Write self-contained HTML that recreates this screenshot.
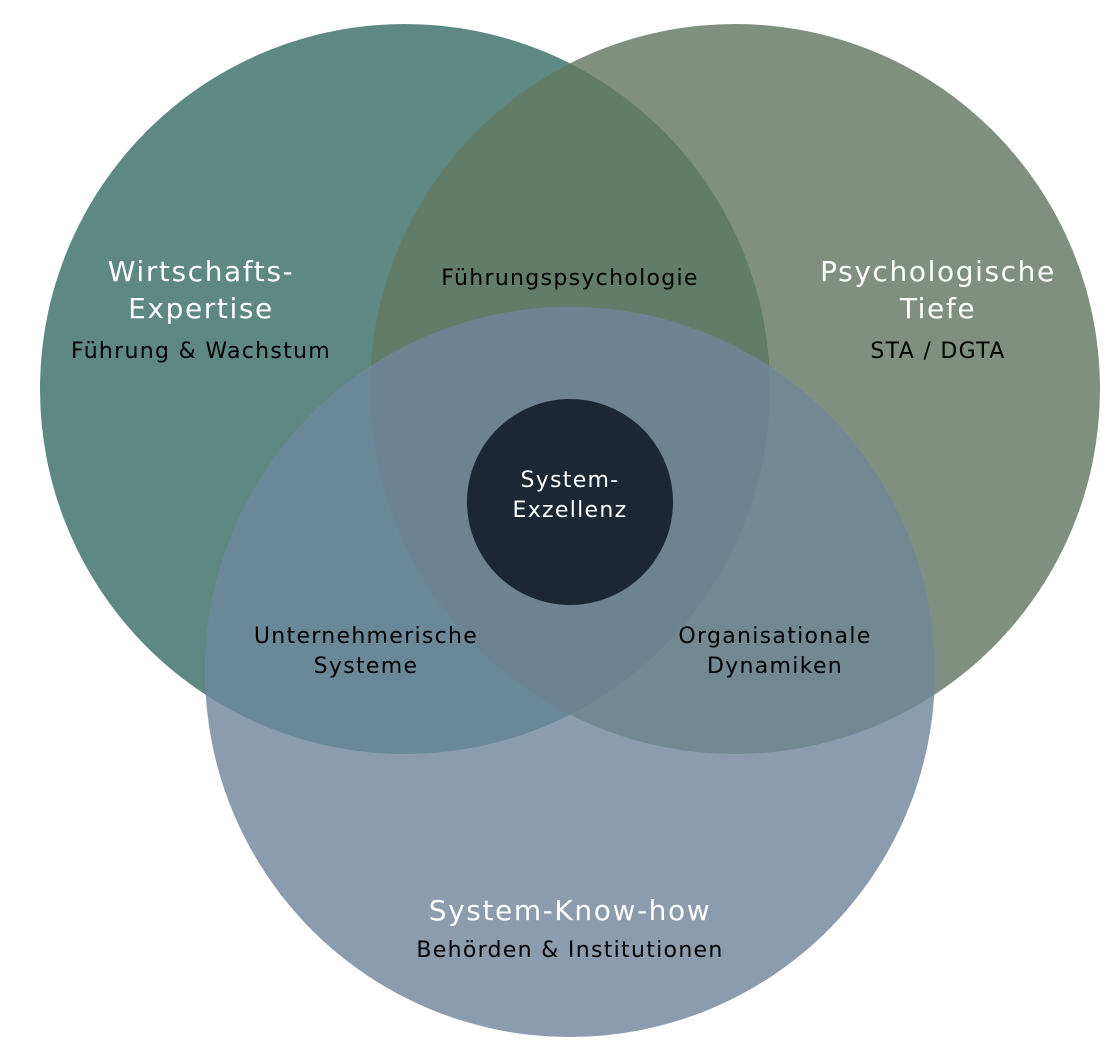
<!DOCTYPE html>
<html><head><meta charset="utf-8"><style>
html,body{margin:0;padding:0;background:#fff;}
svg{display:block}
text{font-family:"DejaVu Sans","Liberation Sans",sans-serif;text-anchor:middle}
.t{fill:#fff;font-size:28px;letter-spacing:1.6px}
.s{fill:#000;font-size:22px;letter-spacing:1.3px}
</style></head><body>
<svg width="1120" height="1047" viewBox="0 0 1120 1047" xmlns="http://www.w3.org/2000/svg">
<defs>
<clipPath id="cL"><circle cx="405" cy="389" r="365"/></clipPath>
<clipPath id="cR"><circle cx="735" cy="389" r="365"/></clipPath>
<clipPath id="cB"><circle cx="570" cy="672" r="365"/></clipPath>
</defs>
<circle cx="405" cy="389" r="365" fill="#5e8882"/>
<circle cx="735" cy="389" r="365" fill="#7f9080"/>
<circle cx="405" cy="389" r="365" fill="#627c6a" clip-path="url(#cR)"/>
<circle cx="570" cy="672" r="365" fill="#8a9cae"/>
<g clip-path="url(#cB)">
<circle cx="405" cy="389" r="365" fill="#6a8898"/>
<circle cx="735" cy="389" r="365" fill="#728893"/>
<circle cx="405" cy="389" r="365" fill="#6d8391" clip-path="url(#cR)"/>
</g>
<circle cx="570" cy="502" r="103" fill="#1b2734"/>
<text class="t" x="201" y="281">Wirtschafts-</text>
<text class="t" x="201" y="318">Expertise</text>
<text class="s" x="201" y="358">Führung &amp; Wachstum</text>
<text class="t" x="938" y="281">Psychologische</text>
<text class="t" x="938" y="318">Tiefe</text>
<text class="s" x="938" y="358">STA / DGTA</text>
<text class="s" x="570" y="285">Führungspsychologie</text>
<text class="s" x="366" y="643">Unternehmerische</text>
<text class="s" x="366" y="673">Systeme</text>
<text class="s" x="775" y="643">Organisationale</text>
<text class="s" x="775" y="673">Dynamiken</text>
<text class="t" x="570" y="920">System-Know-how</text>
<text class="s" x="570" y="957">Behörden &amp; Institutionen</text>
<text class="s" x="570" y="487" style="fill:#fff">System-</text>
<text class="s" x="570" y="517" style="fill:#fff">Exzellenz</text>
</svg>
</body></html>
